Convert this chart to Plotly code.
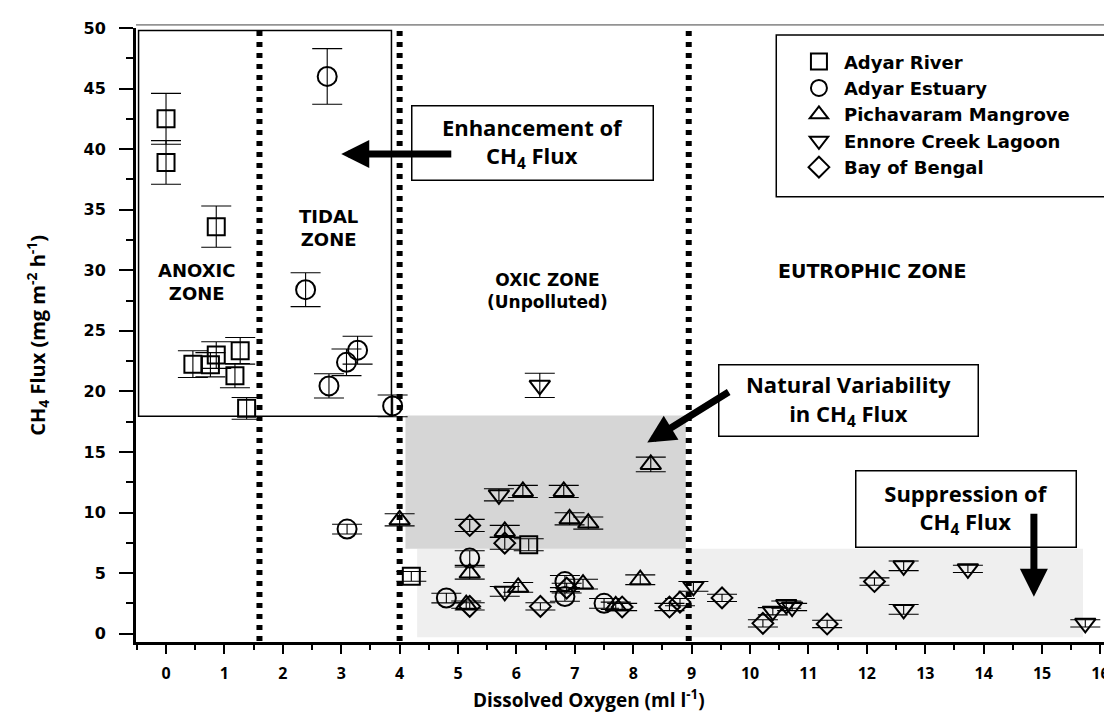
import plotly.graph_objects as go

# ---------------- data ----------------
river_x = [0.0, 0.0, 0.86, 0.46, 0.86, 0.76, 1.27, 1.18, 1.38, 4.2, 6.21]
river_y = [42.5, 38.9, 33.6, 22.25, 23.0, 22.2, 23.35, 21.3, 18.6, 4.73, 7.34]
river_e = [2.1, 1.8, 1.7, 1.1, 1.1, 1.0, 1.1, 1.0, 0.9, 0.4, 0.5]

estuary_x = [2.76, 2.39, 2.79, 3.09, 3.28, 3.88, 3.1, 5.2, 4.8, 6.83, 6.83, 7.5]
estuary_y = [46.0, 28.4, 20.45, 22.4, 23.4, 18.8, 8.63, 6.24, 2.94, 4.3, 3.07, 2.5]
estuary_e = [2.3, 1.4, 1.0, 1.1, 1.15, 0.9, 0.4, 0.6, 0.4, 0.5, 0.4, 0.4]

mangrove_x = [4.0, 6.11, 6.81, 6.91, 7.23, 5.8, 5.2, 6.03, 7.14, 8.12, 5.14, 8.3, 7.7]
mangrove_y = [9.4, 11.74, 11.74, 9.48, 9.13, 8.44, 5.0, 3.82, 4.09, 4.45, 2.4, 13.97, 2.3]
mangrove_e = [0.5, 0.5, 0.5, 0.5, 0.5, 0.5, 0.5, 0.4, 0.4, 0.4, 0.3, 0.6, 0.3]

ennore_x = [6.4, 5.7, 5.8, 9.03, 10.39, 10.62, 10.72, 12.63, 13.73, 12.63, 15.74]
ennore_y = [20.5, 11.46, 3.49, 3.9, 1.85, 2.4, 2.2, 5.6, 5.35, 2.0, 0.85]
ennore_e = [1.0, 0.5, 0.4, 0.4, 0.3, 0.3, 0.3, 0.4, 0.3, 0.4, 0.3]

bay_x = [5.2, 5.8, 5.2, 6.41, 6.86, 7.81, 8.62, 8.8, 9.52, 10.22, 11.32, 12.13]
bay_y = [8.93, 7.47, 2.25, 2.25, 3.76, 2.2, 2.2, 2.6, 2.95, 0.85, 0.8, 4.3]
bay_e = [0.5, 0.5, 0.3, 0.3, 0.4, 0.3, 0.3, 0.3, 0.3, 0.3, 0.3, 0.3]

series_names = ["Adyar River", "Adyar Estuary", "Pichavaram Mangrove",
                "Ennore Creek Lagoon", "Bay of Bengal"]
series_symbols = ["square-open", "circle-open", "triangle-up-open",
                  "triangle-down-open", "diamond-open"]
zone_bounds = [1.6, 4.0, 8.95]

x_ticks = list(range(0, 17))
y_ticks = list(range(0, 55, 5))

# ---------------- figure ----------------
fig = go.Figure()
series = [(river_x, river_y, river_e), (estuary_x, estuary_y, estuary_e),
          (mangrove_x, mangrove_y, mangrove_e), (ennore_x, ennore_y, ennore_e),
          (bay_x, bay_y, bay_e)]
sizes = [17, 19, 18, 18, 16]
for (xs, ys, es), name, sym, sz in zip(series, series_names, series_symbols, sizes):
    fig.add_trace(go.Scatter(
        x=xs, y=ys, mode="markers", name=name,
        marker=dict(symbol=sym, size=sz, color="black", line=dict(width=2, color="black")),
        error_y=dict(type="data", array=es, color="black", thickness=1.1, width=15),
        cliponaxis=False,
    ))

# shaded regions
fig.add_shape(type="rect", xref="x", yref="y", x0=4.3, x1=15.7, y0=-0.3, y1=7,
              fillcolor="#efefef", line=dict(width=0), layer="below")
fig.add_shape(type="rect", xref="x", yref="y", x0=4.1, x1=8.9, y0=7, y1=18,
              fillcolor="#d6d6d6", line=dict(width=0), layer="below")
# zone box
fig.add_shape(type="rect", xref="x", yref="y", x0=-0.47, x1=3.86, y0=17.95, y1=49.8,
              line=dict(color="black", width=1.5), layer="below")
# top border line
fig.add_shape(type="line", xref="paper", yref="paper", x0=0.0, x1=1.0, y0=1.005, y1=1.005,
              line=dict(color="#444", width=1))
# dotted zone boundaries
for zb in zone_bounds:
    fig.add_shape(type="line", xref="x", yref="y", x0=zb, x1=zb, y0=-0.6, y1=50,
                  line=dict(color="black", width=6, dash="5px,6px"))
# legend box
fig.add_shape(type="rect", xref="paper", yref="paper", x0=0.652, x1=0.999, y0=0.725, y1=0.9886,
              line=dict(color="black", width=1.5), fillcolor="white", layer="below")

zone_font = dict(family="DejaVu Sans", size=18, color="black", weight="bold")
box_font = dict(family="Open Sans", size=22, color="black", weight="bold")

fig.add_annotation(x=0.53, y=29.05, xref="x", yref="y", text="ANOXIC<br>ZONE",
                   showarrow=False, font=zone_font)
fig.add_annotation(x=2.79, y=33.5, xref="x", yref="y", text="TIDAL<br>ZONE",
                   showarrow=False, font=zone_font)
fig.add_annotation(x=6.54, y=28.3, xref="x", yref="y", text="OXIC ZONE<br>(Unpolluted)",
                   showarrow=False, font=dict(family="DejaVu Sans", size=17, color="black", weight="bold"))
fig.add_annotation(x=12.09, y=29.9, xref="x", yref="y", text="EUTROPHIC ZONE",
                   showarrow=False, font=dict(family="DejaVu Sans", size=19, color="black", weight="bold"))

# boxed annotations
fig.add_annotation(x=6.27, y=40.52, xref="x", yref="y", text="Enhancement of<br>CH<sub>4</sub> Flux",
                   showarrow=False, font=box_font, width=240, height=73, bgcolor="white",
                   bordercolor="black", borderwidth=1.5, borderpad=0)
fig.add_annotation(x=11.68, y=19.27, xref="x", yref="y", text="Natural Variability<br>in CH<sub>4</sub> Flux",
                   showarrow=False, font=box_font, width=258, height=70, bgcolor="white",
                   bordercolor="black", borderwidth=1.5, borderpad=0)
fig.add_annotation(x=13.69, y=10.32, xref="x", yref="y", text="Suppression of<br>CH<sub>4</sub> Flux",
                   showarrow=False, font=box_font, width=219, height=75, bgcolor="white",
                   bordercolor="black", borderwidth=1.5, borderpad=0)

# arrows
arrow_kw = dict(xref="x", yref="y", axref="x", ayref="y", text="", showarrow=True,
                arrowhead=2, arrowsize=0.8, arrowwidth=7, arrowcolor="black", standoff=0)
fig.add_annotation(x=3.0, y=39.6, ax=4.91, ay=39.6, **arrow_kw)
fig.add_annotation(x=8.24, y=15.78, ax=9.66, ay=20.02, **arrow_kw)
fig.add_annotation(x=14.86, y=3.04, ax=14.86, ay=10.03, **arrow_kw)

# axis titles
fig.add_annotation(x=0.461, y=-0.093, xref="paper", yref="paper", xanchor="center", yanchor="middle",
                   text="Dissolved Oxygen (ml l<sup>-1</sup>)", showarrow=False,
                   font=dict(family="Open Sans", size=19, color="black", weight="bold"))
fig.add_annotation(x=-0.1, y=0.5, xref="paper", yref="paper", xanchor="center", yanchor="middle",
                   textangle=-90,
                   text="CH<sub>4</sub> Flux (mg m<sup>-2</sup> h<sup>-1</sup>)", showarrow=False,
                   font=dict(family="Open Sans", size=20, color="black", weight="bold"))

fig.update_layout(
    width=1112, height=717,
    margin=dict(l=128, r=2, t=20, b=83),
    plot_bgcolor="white", paper_bgcolor="white",
    showlegend=True,
    legend=dict(x=0.67, y=0.975, xanchor="left", yanchor="top",
                bgcolor="rgba(0,0,0,0)", borderwidth=0,
                font=dict(family="DejaVu Sans", size=18, color="black", weight="bold"),
                itemwidth=40),
    xaxis=dict(range=[-0.514, 16.30], tickvals=x_ticks, showgrid=False, zeroline=False,
               showline=True, linewidth=3, linecolor="black",
               ticks="outside", ticklen=9, tickwidth=2, tickcolor="black",
               minor=dict(dtick=0.5, tick0=0, ticks="outside", ticklen=5, tickwidth=2, tickcolor="black"),
               tickfont=dict(family="Open Sans", size=16, color="black", weight="bold"),
               ticklabelstandoff=6),
    yaxis=dict(range=[-0.69, 50], tickvals=y_ticks, showgrid=False, zeroline=False,
               showline=True, linewidth=3, linecolor="black",
               ticks="outside", ticklen=14, tickwidth=2, tickcolor="black",
               minor=dict(dtick=2.5, tick0=0, ticks="outside", ticklen=7, tickwidth=2, tickcolor="black"),
               tickfont=dict(family="DejaVu Sans", size=16, color="black", weight="bold"),
               ticklabelstandoff=10),
)

fig.write_html("out.html")
